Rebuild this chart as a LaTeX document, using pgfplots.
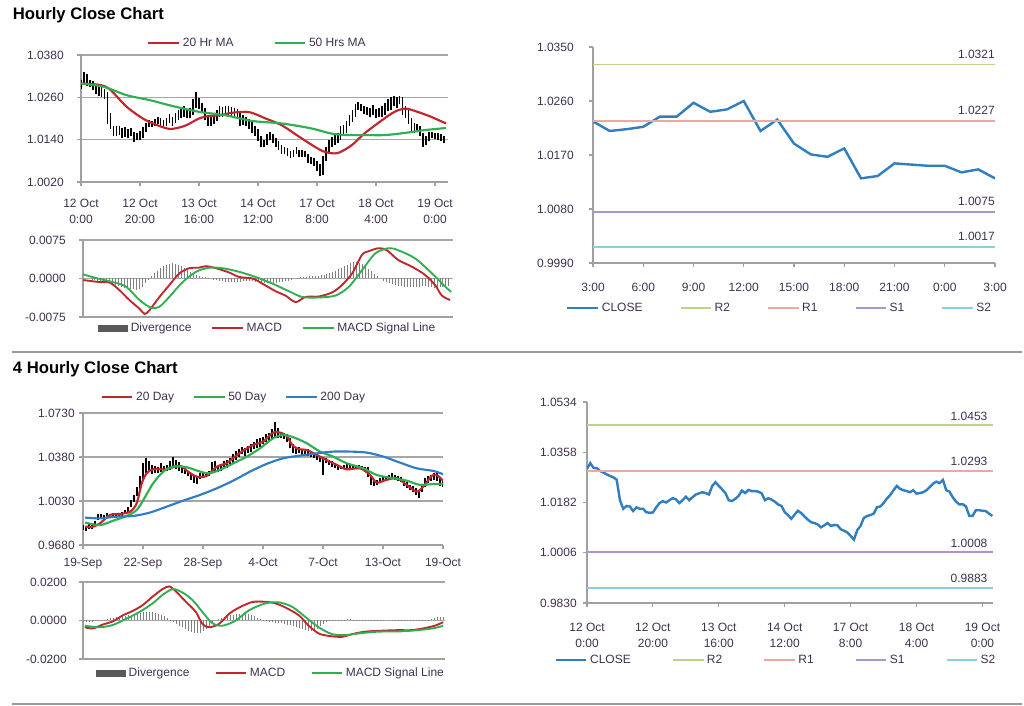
\documentclass[border=0pt]{standalone}
\usepackage{fontspec}
\setmainfont{Liberation Sans}
\usepackage{pgfplots}
\pgfplotsset{compat=1.18}
\usepackage{pgfplotstable}

\definecolor{lblc}{HTML}{3F3151}
\definecolor{axc}{HTML}{A0A0A0}
\definecolor{gridc}{HTML}{A6A6A6}
\definecolor{maRed}{HTML}{C0262C}
\definecolor{maGreen}{HTML}{2EB051}
\definecolor{maBlue}{HTML}{2F7DC3}
\definecolor{closeBlue}{HTML}{2E7EC1}
\definecolor{rTwo}{HTML}{BCD38D}
\definecolor{rOne}{HTML}{EBA9A4}
\definecolor{sOne}{HTML}{AE95C9}
\definecolor{sTwo}{HTML}{8CCDE2}
\definecolor{divc}{HTML}{7F7F7F}
\definecolor{sepc}{HTML}{9A9A9A}

% hourly bars: index, close, low, high
\pgfplotstableread{
i c lo hi
0 1.0300 1.0285 1.0310
1 1.0320 1.0295 1.0332
2 1.0303 1.0292 1.0325
3 1.0302 1.0290 1.0310
4 1.0292 1.0282 1.0305
5 1.0287 1.0270 1.0298
6 1.0280 1.0265 1.0292
7 1.0275 1.0262 1.0290
8 1.0270 1.0255 1.0285
9 1.0262 1.0185 1.0275
10 1.0190 1.0170 1.0215
11 1.0160 1.0150 1.0180
12 1.0170 1.0150 1.0178
13 1.0168 1.0152 1.0180
14 1.0152 1.0145 1.0172
15 1.0165 1.0148 1.0175
16 1.0160 1.0145 1.0170
17 1.0160 1.0150 1.0172
18 1.0148 1.0132 1.0162
19 1.0146 1.0138 1.0158
20 1.0147 1.0140 1.0165
21 1.0165 1.0145 1.0175
22 1.0180 1.0162 1.0188
23 1.0187 1.0175 1.0195
24 1.0182 1.0175 1.0192
25 1.0190 1.0178 1.0198
26 1.0197 1.0185 1.0205
27 1.0193 1.0180 1.0200
28 1.0180 1.0172 1.0195
29 1.0190 1.0178 1.0200
30 1.0202 1.0188 1.0212
31 1.0190 1.0180 1.0205
32 1.0200 1.0188 1.0215
33 1.0210 1.0195 1.0225
34 1.0214 1.0200 1.0230
35 1.0218 1.0205 1.0235
36 1.0215 1.0200 1.0228
37 1.0210 1.0200 1.0230
38 1.0240 1.0210 1.0255
39 1.0253 1.0230 1.0275
40 1.0240 1.0228 1.0258
41 1.0228 1.0215 1.0245
42 1.0215 1.0195 1.0230
43 1.0190 1.0178 1.0210
44 1.0187 1.0178 1.0205
45 1.0195 1.0185 1.0210
46 1.0205 1.0192 1.0225
47 1.0224 1.0205 1.0235
48 1.0215 1.0205 1.0232
49 1.0226 1.0210 1.0235
50 1.0222 1.0210 1.0235
51 1.0222 1.0208 1.0232
52 1.0220 1.0205 1.0230
53 1.0214 1.0200 1.0228
54 1.0190 1.0180 1.0215
55 1.0197 1.0182 1.0210
56 1.0192 1.0178 1.0205
57 1.0185 1.0170 1.0198
58 1.0175 1.0160 1.0190
59 1.0170 1.0150 1.0180
60 1.0148 1.0135 1.0170
61 1.0138 1.0120 1.0150
62 1.0125 1.0118 1.0140
63 1.0140 1.0125 1.0155
64 1.0153 1.0138 1.0162
65 1.0145 1.0130 1.0155
66 1.0133 1.0118 1.0145
67 1.0122 1.0110 1.0135
68 1.0113 1.0100 1.0125
69 1.0110 1.0098 1.0118
70 1.0105 1.0095 1.0115
71 1.0095 1.0088 1.0108
72 1.0102 1.0090 1.0112
73 1.0110 1.0098 1.0118
74 1.0100 1.0092 1.0112
75 1.0103 1.0092 1.0110
76 1.0102 1.0090 1.0108
77 1.0088 1.0075 1.0098
78 1.0083 1.0070 1.0092
79 1.0077 1.0065 1.0088
80 1.0065 1.0050 1.0080
81 1.0052 1.0038 1.0070
82 1.0085 1.0040 1.0095
83 1.0100 1.0080 1.0120
84 1.0128 1.0100 1.0140
85 1.0135 1.0120 1.0148
86 1.0138 1.0125 1.0152
87 1.0143 1.0130 1.0160
88 1.0166 1.0140 1.0178
89 1.0168 1.0155 1.0182
90 1.0180 1.0160 1.0192
91 1.0196 1.0178 1.0210
92 1.0208 1.0190 1.0225
93 1.0225 1.0205 1.0240
94 1.0240 1.0225 1.0248
95 1.0230 1.0220 1.0242
96 1.0225 1.0212 1.0235
97 1.0222 1.0210 1.0232
98 1.0218 1.0205 1.0230
99 1.0225 1.0210 1.0238
100 1.0213 1.0200 1.0228
101 1.0215 1.0205 1.0230
102 1.0218 1.0205 1.0235
103 1.0225 1.0210 1.0245
104 1.0236 1.0220 1.0255
105 1.0248 1.0225 1.0262
106 1.0255 1.0235 1.0265
107 1.0250 1.0230 1.0262
108 1.0261 1.0240 1.0265
109 1.0225 1.0210 1.0262
110 1.0220 1.0200 1.0235
111 1.0200 1.0185 1.0225
112 1.0185 1.0165 1.0200
113 1.0175 1.0160 1.0188
114 1.0176 1.0162 1.0185
115 1.0168 1.0150 1.0180
116 1.0135 1.0118 1.0160
117 1.0135 1.0125 1.0150
118 1.0155 1.0135 1.0162
119 1.0155 1.0145 1.0162
120 1.0153 1.0142 1.0160
121 1.0152 1.0140 1.0158
122 1.0143 1.0135 1.0155
123 1.0135 1.0130 1.0150
}\hourly

% 4-hourly bars: index, low, high
\pgfplotstableread{
i lo hi
0 0.9800 0.9840
1 0.9790 0.9835
2 0.9805 0.9845
3 0.9810 0.9840
4 0.9820 0.9870
5 0.9880 0.9925
6 0.9895 0.9930
7 0.9890 0.9920
8 0.9900 0.9935
9 0.9895 0.9925
10 0.9900 0.9930
11 0.9895 0.9925
12 0.9900 0.9935
13 0.9910 0.9945
14 0.9925 0.9960
15 0.9940 0.9985
16 0.9980 1.0040
17 1.0020 1.0080
18 1.0070 1.0140
19 1.0120 1.0230
20 1.0200 1.0330
21 1.0250 1.0370
22 1.0260 1.0350
23 1.0245 1.0320
24 1.0250 1.0310
25 1.0255 1.0300
26 1.0260 1.0330
27 1.0265 1.0310
28 1.0270 1.0320
29 1.0280 1.0345
30 1.0290 1.0380
31 1.0285 1.0360
32 1.0270 1.0340
33 1.0255 1.0300
34 1.0245 1.0280
35 1.0230 1.0270
36 1.0200 1.0250
37 1.0170 1.0230
38 1.0165 1.0220
39 1.0205 1.0250
40 1.0215 1.0250
41 1.0220 1.0260
42 1.0225 1.0265
43 1.0250 1.0340
44 1.0265 1.0350
45 1.0260 1.0310
46 1.0270 1.0320
47 1.0285 1.0345
48 1.0295 1.0360
49 1.0310 1.0375
50 1.0325 1.0400
51 1.0360 1.0430
52 1.0380 1.0440
53 1.0400 1.0460
54 1.0390 1.0450
55 1.0410 1.0470
56 1.0420 1.0480
57 1.0440 1.0500
58 1.0455 1.0520
59 1.0460 1.0530
60 1.0480 1.0540
61 1.0500 1.0560
62 1.0510 1.0570
63 1.0520 1.0600
64 1.0540 1.0660
65 1.0530 1.0610
66 1.0530 1.0580
67 1.0525 1.0570
68 1.0500 1.0560
69 1.0450 1.0530
70 1.0410 1.0480
71 1.0400 1.0450
72 1.0410 1.0460
73 1.0395 1.0440
74 1.0390 1.0430
75 1.0385 1.0440
76 1.0380 1.0420
77 1.0370 1.0410
78 1.0360 1.0400
79 1.0340 1.0390
80 1.0240 1.0380
81 1.0330 1.0375
82 1.0320 1.0360
83 1.0300 1.0350
84 1.0290 1.0330
85 1.0280 1.0320
86 1.0285 1.0310
87 1.0290 1.0320
88 1.0295 1.0325
89 1.0290 1.0320
90 1.0285 1.0315
91 1.0290 1.0320
92 1.0285 1.0315
93 1.0280 1.0310
94 1.0275 1.0300
95 1.0220 1.0300
96 1.0160 1.0230
97 1.0150 1.0200
98 1.0160 1.0200
99 1.0170 1.0210
100 1.0180 1.0220
101 1.0190 1.0230
102 1.0200 1.0240
103 1.0205 1.0250
104 1.0200 1.0240
105 1.0190 1.0230
106 1.0180 1.0220
107 1.0150 1.0200
108 1.0130 1.0180
109 1.0120 1.0160
110 1.0100 1.0150
111 1.0080 1.0130
112 1.0050 1.0110
113 1.0100 1.0160
114 1.0140 1.0210
115 1.0170 1.0230
116 1.0190 1.0240
117 1.0200 1.0250
118 1.0190 1.0250
119 1.0150 1.0210
120 1.0140 1.0190
}\fourh

\pgfplotstableread[row sep=\\]{
i v\\ 0 0\\ 1 0\\ 2 0\\ 3 -0.0002\\ 4 -0.0003\\ 5 -0.0004\\ 6 -0.0005\\ 7 -0.0006\\ 8 -0.0007\\ 9 -0.0009\\
10 -0.0010\\ 11 -0.0012\\ 12 -0.0014\\ 13 -0.0016\\ 14 -0.0018\\ 15 -0.0019\\ 16 -0.0020\\ 17 -0.0021\\ 18 -0.0022\\ 19 -0.0020\\
20 -0.0016\\ 21 -0.0008\\ 22 -0.0002\\ 23 0.0004\\ 24 0.0010\\ 25 0.0015\\ 26 0.0020\\ 27 0.0024\\ 28 0.0027\\ 29 0.0029\\
30 0.0030\\ 31 0.0029\\ 32 0.0027\\ 33 0.0024\\ 34 0.0020\\ 35 0.0016\\ 36 0.0012\\ 37 0.0009\\ 38 0.0007\\ 39 0.0005\\
40 0.0003\\ 41 0.0002\\ 42 0.0001\\ 43 0\\ 44 -0.0002\\ 45 -0.0003\\ 46 -0.0004\\ 47 -0.0005\\ 48 -0.0006\\ 49 -0.0006\\
50 -0.0007\\ 51 -0.0007\\ 52 -0.0007\\ 53 -0.0006\\ 54 -0.0005\\ 55 -0.0004\\ 56 -0.0004\\ 57 -0.0005\\ 58 -0.0006\\ 59 -0.0007\\
60 -0.0008\\ 61 -0.0008\\ 62 -0.0009\\ 63 -0.0009\\ 64 -0.0008\\ 65 -0.0008\\ 66 -0.0007\\ 67 -0.0006\\ 68 -0.0005\\ 69 -0.0004\\
70 -0.0002\\ 71 0\\ 72 0.0001\\ 73 0.0002\\ 74 0.0003\\ 75 0.0003\\ 76 0.0004\\ 77 0.0004\\ 78 0.0005\\ 79 0.0005\\
80 0.0006\\ 81 0.0007\\ 82 0.0008\\ 83 0.0010\\ 84 0.0012\\ 85 0.0015\\ 86 0.0018\\ 87 0.0021\\ 88 0.0024\\ 89 0.0027\\
90 0.0030\\ 91 0.0032\\ 92 0.0033\\ 93 0.0031\\ 94 0.0028\\ 95 0.0024\\ 96 0.0019\\ 97 0.0014\\ 98 0.0009\\ 99 0.0004\\
100 0\\ 101 -0.0004\\ 102 -0.0007\\ 103 -0.0009\\ 104 -0.0011\\ 105 -0.0013\\ 106 -0.0014\\ 107 -0.0015\\ 108 -0.0016\\ 109 -0.0016\\
110 -0.0016\\ 111 -0.0016\\ 112 -0.0016\\ 113 -0.0016\\ 114 -0.0015\\ 115 -0.0015\\ 116 -0.0016\\ 117 -0.0017\\ 118 -0.0018\\ 119 -0.0018\\
120 -0.0017\\ 121 -0.0016\\ 122 -0.0016\\ 123 -0.0015\\
}\hdiv

\pgfplotstableread[row sep=\\]{
i v\\ 0 -0.0005\\ 1 -0.0006\\ 2 -0.0007\\ 3 -0.0006\\ 4 -0.0004\\ 5 -0.0002\\ 6 0.0002\\ 7 0.0005\\ 8 0.0008\\ 9 0.0011\\
10 0.0014\\ 11 0.0017\\ 12 0.0019\\ 13 0.0021\\ 14 0.0023\\ 15 0.0026\\ 16 0.0030\\ 17 0.0034\\ 18 0.0038\\ 19 0.0041\\
20 0.0044\\ 21 0.0046\\ 22 0.0046\\ 23 0.0044\\ 24 0.0040\\ 25 0.0035\\ 26 0.0029\\ 27 0.0021\\ 28 0.0012\\ 29 0.0003\\
30 -0.0006\\ 31 -0.0016\\ 32 -0.0026\\ 33 -0.0036\\ 34 -0.0045\\ 35 -0.0053\\ 36 -0.0060\\ 37 -0.0065\\ 38 -0.0066\\ 39 -0.0063\\
40 -0.0056\\ 41 -0.0045\\ 42 -0.0030\\ 43 -0.0014\\ 44 0\\ 45 0.0006\\ 46 0.0012\\ 47 0.0018\\ 48 0.0023\\ 49 0.0027\\
50 0.0031\\ 51 0.0034\\ 52 0.0036\\ 53 0.0036\\ 54 0.0035\\ 55 0.0032\\ 56 0.0027\\ 57 0.0021\\ 58 0.0014\\ 59 0.0007\\
60 0.0001\\ 61 -0.0004\\ 62 -0.0007\\ 63 -0.0009\\ 64 -0.0011\\ 65 -0.0013\\ 66 -0.0015\\ 67 -0.0018\\ 68 -0.0021\\ 69 -0.0025\\
70 -0.0030\\ 71 -0.0035\\ 72 -0.0040\\ 73 -0.0045\\ 74 -0.0049\\ 75 -0.0052\\ 76 -0.0053\\ 77 -0.0050\\ 78 -0.0042\\ 79 -0.0030\\
80 -0.0018\\ 81 -0.0008\\ 82 -0.0002\\ 83 0.0002\\ 84 0.0003\\ 85 0.0004\\ 86 0.0005\\ 87 0.0005\\ 88 0.0006\\ 89 0.0006\\
90 0.0005\\ 91 0.0004\\ 92 0.0003\\ 93 0.0003\\ 94 0.0003\\ 95 0.0002\\ 96 0.0002\\ 97 0.0002\\ 98 0.0001\\ 99 0.0001\\
100 0.0001\\ 101 0\\ 102 -0.0002\\ 103 -0.0003\\ 104 -0.0004\\ 105 -0.0004\\ 106 -0.0003\\ 107 -0.0002\\ 108 0.0001\\ 109 0.0002\\
110 0.0002\\ 111 0.0001\\ 112 -0.0002\\ 113 -0.0003\\ 114 -0.0002\\ 115 0.0002\\ 116 0.0008\\ 117 0.0013\\ 118 0.0016\\ 119 0.0017\\
120 0.0016\\
}\fdiv

\pgfplotstableread{
h c
0 1.0226
1 1.0210
2 1.0213
3 1.0217
4 1.0234
5 1.0234
6 1.0257
7 1.0242
8 1.0246
9 1.0260
10 1.0210
11 1.0229
12 1.0189
13 1.0171
14 1.0167
15 1.0181
16 1.0131
17 1.0135
18 1.0156
19 1.0154
20 1.0152
21 1.0152
22 1.0141
23 1.0146
24 1.0131
}\hclose

\pgfplotsset{
  pane/.style={
    scale only axis, anchor=south west,
    axis x line*=bottom, axis y line*=left,
    axis line style={draw=axc, line width=0.8pt},
    every tick/.style={draw=axc, line width=0.8pt},
    major tick length=3pt, tick align=outside,
    scaled ticks=false,
    ticklabel style={font=\fontsize{9}{12}\selectfont, text=lblc, inner sep=0pt},
    grid style={draw=gridc, line width=0.8pt},
    legend style={draw=none, fill=none, font=\fontsize{9}{11}\selectfont, text=lblc,
      legend columns=-1, anchor=center, inner sep=0pt},
    legend cell align=left,
    legend image code/.code={\draw[##1] (0pt,0pt) -- (23pt,0pt);},
  },
  divlegend/.style={legend image code/.code={\fill[black!65] (0pt,-2.2pt) rectangle (22pt,2.2pt);}},
}

\begin{document}
\begin{tikzpicture}
\useasboundingbox (0,0) rectangle (768pt,529.5pt);
\fill[white] (0,0) rectangle (768pt,529.5pt);
\node[anchor=west, inner sep=0pt, font=\bfseries\fontsize{12.5}{14}\selectfont] at (9.5pt,518.25pt) {Hourly Close Chart};
\node[anchor=west, inner sep=0pt, font=\bfseries\fontsize{12.5}{14}\selectfont] at (9.5pt,252.75pt) {4 Hourly Close Chart};
\draw[sepc, line width=1pt] (9pt,265.5pt) -- (766.5pt,265.5pt);
\draw[sepc, line width=1pt] (9pt,1.5pt) -- (766.5pt,1.5pt);

% ---------- Panel 1: hourly bars with MAs
\begin{axis}[pane, at={(60.75pt,393pt)}, width=275.25pt, height=95.25pt,
  xmin=0, xmax=124.4, ymin=1.002, ymax=1.038,
  ytick={1.002,1.014,1.026,1.038}, yticklabels={1.0020,1.0140,1.0260,1.0380},
  xtick={0,20,40,60,80,100,120},
  xticklabels={{12 Oct\\0:00},{12 Oct\\20:00},{13 Oct\\16:00},{14 Oct\\12:00},{17 Oct\\8:00},{18 Oct\\4:00},{19 Oct\\0:00}},
  xticklabel style={align=center}, xticklabel shift=10pt, yticklabel shift=9.75pt,
  ymajorgrids,
  legend style={at={(0.482,1.094)}, /tikz/every even column/.append style={column sep=28pt}},
]
\addplot[black, line width=1.25pt, forget plot, quiver={u=0, v=\thisrow{hi}-\thisrow{lo}}] table[x=i, y=lo] {\hourly};
\addplot[maRed, line width=1.6pt, smooth, tension=0.5] coordinates {
(0,1.0299) (6.5,1.0295) (10,1.0281) (15.5,1.0233) (22,1.0195) (29,1.0172) (32,1.0172) (35.7,1.0181)
(40,1.0200) (43.5,1.0207) (47,1.0209) (51,1.0216) (56,1.0219) (58.6,1.0214) (62.6,1.0200) (68,1.0181)
(74,1.0148) (79.4,1.0119) (82.8,1.0105) (87,1.0102) (91.7,1.0124) (96,1.0157) (102,1.0195) (106.3,1.0219)
(110,1.0228) (114,1.0219) (118.6,1.0205) (123.7,1.0186)};
\addlegendentry{20 Hr MA}
\addplot[maGreen, line width=1.6pt, smooth, tension=0.5] coordinates {
(0,1.0299) (7.6,1.0290) (15.5,1.0266) (23.3,1.0252) (31.2,1.0235) (40,1.0219) (49,1.0209) (58,1.0193)
(68,1.0186) (78,1.0172) (85,1.0157) (90.6,1.0153) (96,1.0153) (103,1.0153) (109.7,1.0159) (116.4,1.0167) (123.7,1.0173)};
\addlegendentry{50 Hrs MA}
\end{axis}

% ---------- Panel 2: hourly MACD
\begin{axis}[pane, at={(62.25pt,291.75pt)}, width=277.5pt, height=57.75pt,
  xmin=0, xmax=124.4, ymin=-0.0075, ymax=0.0075,
  ytick={-0.0075,0,0.0075}, yticklabels={-0.0075,0.0000,0.0075},
  xtick=\empty, yticklabel shift=9.75pt, ymajorgrids,
  legend style={at={(0.5,-0.143)}, /tikz/every even column/.append style={column sep=13pt}},
]
\addplot[divc, ycomb, line width=0.6pt, divlegend] table[x=i, y=v] {\hdiv};
\addlegendentry{Divergence}
\addplot[maRed, line width=1.4pt, smooth, tension=0.5] coordinates {
(0,-0.0003) (5.6,-0.0007) (9,-0.0008) (12.3,-0.0023) (15.6,-0.0042) (19,-0.0059) (20.7,-0.0069) (22.3,-0.0062)
(25.7,-0.0036) (29,-0.0013) (32.4,0.0010) (35.7,0.0020) (39,0.0021) (41.3,0.0024) (44.7,0.0020) (49,0.0012)
(52.5,0.0003) (57,0) (60.3,-0.0010) (64.8,-0.0025) (68,-0.0033) (71.5,-0.0046) (74.8,-0.0036) (79.3,-0.0035)
(83.8,-0.0027) (87,-0.0013) (90.5,0.0010) (93.8,0.0046) (96,0.0053) (99.4,0.0059) (102.2,0.0055) (106,0.0036)
(110.6,0.0023) (115,0.0007) (118.4,-0.0013) (120.6,-0.0033) (123.4,-0.0042)};
\addlegendentry{MACD}
\addplot[maGreen, line width=1.4pt, smooth, tension=0.5] coordinates {
(0,0.0008) (5.6,-0.0001) (10,-0.0007) (14.5,-0.0016) (19,-0.0042) (22.9,-0.0057) (25.7,-0.0055) (29,-0.0036)
(33.5,-0.0007) (38,0.0013) (42.4,0.0021) (47,0.0020) (52.5,0.0013) (58,0.0003) (63.7,-0.0010) (69.3,-0.0025)
(73.7,-0.0036) (79.3,-0.0037) (85,-0.0033) (89.4,-0.0016) (93.8,0.0016) (98.3,0.0049) (102.8,0.0059) (106,0.0055)
(111.7,0.0039) (117.3,0.0010) (121.8,-0.0016) (123.8,-0.0026)};
\addlegendentry{MACD Signal Line}
\end{axis}

% ---------- Panel 3: hourly close with pivots (1 Hr)
\begin{axis}[pane, at={(444.75pt,332.25pt)}, width=301.5pt, height=162pt,
  xmin=0, xmax=24, ymin=0.999, ymax=1.035,
  ytick={0.999,1.008,1.017,1.026,1.035}, yticklabels={0.9990,1.0080,1.0170,1.0260,1.0350},
  xtick={0,3,6,9,12,15,18,21,24}, xticklabels={3:00,6:00,9:00,12:00,15:00,18:00,21:00,0:00,3:00},
  xticklabel shift=12pt, yticklabel shift=11.25pt,
  legend style={at={(0.465,-0.208)}, /tikz/every even column/.append style={column sep=26pt}},
]
\addplot[closeBlue, line width=1.8pt] table[x=h, y=c] {\hclose};
\addlegendentry{CLOSE}
\addplot[rTwo, line width=1.1pt] coordinates {(0,1.0321) (24,1.0321)};
\addlegendentry{R2}
\addplot[rOne, line width=1.1pt] coordinates {(0,1.0227) (24,1.0227)};
\addlegendentry{R1}
\addplot[sOne, line width=1.1pt] coordinates {(0,1.0075) (24,1.0075)};
\addlegendentry{S1}
\addplot[sTwo, line width=1.1pt] coordinates {(0,1.0017) (24,1.0017)};
\addlegendentry{S2}
\node[anchor=south east, inner sep=0pt, yshift=4.5pt, font=\fontsize{9}{11}\selectfont, text=lblc] at (axis cs:24,1.0321) {1.0321};
\node[anchor=south east, inner sep=0pt, yshift=4.5pt, font=\fontsize{9}{11}\selectfont, text=lblc] at (axis cs:24,1.0227) {1.0227};
\node[anchor=south east, inner sep=0pt, yshift=4.5pt, font=\fontsize{9}{11}\selectfont, text=lblc] at (axis cs:24,1.0075) {1.0075};
\node[anchor=south east, inner sep=0pt, yshift=4.5pt, font=\fontsize{9}{11}\selectfont, text=lblc] at (axis cs:24,1.0017) {1.0017};
\node[inner sep=0pt, font=\fontsize{9}{11}\selectfont, text=lblc] at (rel axis cs:0.448,-0.296) {Note: Support \& Resistance Calculated based on 1 Hr Pivot Points};
\end{axis}

% ---------- Panel 4: 4-hourly bars with MAs
\begin{axis}[pane, at={(62.25pt,120.75pt)}, width=270pt, height=99pt,
  xmin=0, xmax=120, ymin=0.968, ymax=1.073,
  ytick={0.968,1.003,1.038,1.073}, yticklabels={0.9680,1.0030,1.0380,1.0730},
  xtick={0,20,40,60,80,100,120}, xticklabels={19-Sep,22-Sep,28-Sep,4-Oct,7-Oct,13-Oct,19-Oct},
  xticklabel shift=7pt, yticklabel shift=3pt,
  ymajorgrids,
  legend style={at={(0.42,1.121)}, /tikz/every even column/.append style={column sep=12pt}},
]
\addplot[black, line width=1.1pt, forget plot, quiver={u=0, v=\thisrow{hi}-\thisrow{lo}}] table[x=i, y=lo] {\fourh};
\addplot[maRed, line width=1.6pt, smooth, tension=0.5] coordinates {
(0.7,0.9826) (3.4,0.9826) (5.7,0.9853) (9,0.9919) (12.3,0.9927) (15.7,0.9945) (17.9,1.0012) (19.6,1.0171)
(21.2,1.0250) (23.4,1.0282) (27.9,1.0282) (31.2,1.0309) (32.9,1.0305) (35,1.0264) (37.9,1.0224) (41.2,1.0229)
(44.6,1.0303) (47.9,1.0330) (50,1.0370) (53.4,1.0431) (56.8,1.0476) (60,1.0502) (63.4,1.0574) (65.7,1.0574)
(67.9,1.0547) (70,1.0468) (72.3,1.0441) (74.6,1.0436) (77.9,1.0396) (81.2,1.0356) (84.6,1.0317) (87.9,1.0282)
(92.3,1.0290) (95.7,1.0237) (97.9,1.0176) (101,1.0197) (104.6,1.0211) (107.9,1.0158) (111.2,1.0105) (113.4,1.0144)
(116.2,1.0229) (117.9,1.0237) (120,1.0192)};
\addlegendentry{20 Day}
\addplot[maGreen, line width=1.6pt, smooth, tension=0.5] coordinates {
(0.7,0.9858) (5.7,0.9839) (10.1,0.9874) (14.6,0.9911) (17.9,0.9959) (20.1,1.0038) (23.4,1.0171) (26.8,1.0264)
(30.1,1.0303) (34.6,1.0298) (39,1.0264) (42.3,1.0250) (46.8,1.0290) (50.1,1.0330) (54.6,1.0383) (59,1.0449)
(63.4,1.0529) (66.8,1.0555) (70.1,1.0537) (74.6,1.0489) (79,1.0423) (83.4,1.0383) (87.9,1.0330) (93.4,1.0290)
(97.9,1.0237) (103.4,1.0211) (107.9,1.0192) (112.3,1.0158) (116.8,1.0165) (120,1.0165)};
\addlegendentry{50 Day}
\addplot[maBlue, line width=1.6pt, smooth, tension=0.5] coordinates {
(0.7,0.9898) (5.7,0.9892) (11.2,0.9906) (16.8,0.9911) (22.3,0.9938) (27.9,0.9985) (33.4,1.0033) (39,1.0078)
(44.6,1.0131) (50.1,1.0192) (55.7,1.0264) (61.2,1.0325) (66.8,1.0370) (72.3,1.0391) (77.9,1.0409) (83.4,1.0423)
(89,1.0423) (94.6,1.0415) (100.1,1.0383) (105.7,1.0335) (111.2,1.0290) (116.8,1.0269) (120,1.0243)};
\addlegendentry{200 Day}
\end{axis}

% ---------- Panel 5: 4-hourly MACD
\begin{axis}[pane, at={(62.25pt,35.25pt)}, width=271.5pt, height=57.75pt,
  xmin=0, xmax=120.6, ymin=-0.02, ymax=0.02,
  ytick={-0.02,0,0.02}, yticklabels={-0.0200,0.0000,0.0200},
  xtick=\empty, yticklabel shift=9pt, ymajorgrids,
  legend style={at={(0.52,-0.182)}, /tikz/every even column/.append style={column sep=17pt}},
]
\addplot[divc, ycomb, line width=0.6pt, divlegend] table[x=i, y=v] {\fdiv};
\addlegendentry{Divergence}
\addplot[maRed, line width=1.4pt, smooth, tension=0.5] coordinates {
(0.6,-0.0035) (3.3,-0.0041) (6.6,-0.0021) (10,-0.0004) (13.3,0.0027) (16.6,0.0050) (19.9,0.0080) (23.2,0.0124)
(26.5,0.0163) (28.8,0.0177) (31,0.0150) (34.3,0.0097) (37.6,0.0044) (39.8,-0.0018) (42,-0.0035) (45.3,-0.0018)
(48.7,0.0035) (52,0.0067) (56.4,0.0096) (60.8,0.0097) (64.1,0.0089) (67.5,0.0067) (71.9,0.0027) (75.2,-0.0027)
(78.5,-0.0067) (81.8,-0.0080) (86.3,-0.0085) (89.6,-0.0071) (94,-0.0058) (99.5,-0.0053) (105,-0.0050) (109.5,-0.0050)
(114,-0.0039) (117.2,-0.0027) (120,-0.0009)};
\addlegendentry{MACD}
\addplot[maGreen, line width=1.4pt, smooth, tension=0.5] coordinates {
(0.6,-0.0027) (5.5,-0.0035) (10,-0.0023) (14.4,0.0009) (18.8,0.0044) (23.2,0.0089) (26.5,0.0133) (29.9,0.0163)
(33.2,0.0145) (36.5,0.0106) (39.8,0.0044) (43.1,-0.0014) (46.5,-0.0027) (50.9,0) (55.3,0.0053) (60.8,0.0089)
(65.3,0.0094) (69.7,0.0071) (74.1,0.0018) (78.5,-0.0035) (83,-0.0071) (87.4,-0.0076) (91.8,-0.0067) (98.4,-0.0058)
(105,-0.0057) (111.7,-0.0050) (117.2,-0.0039) (120,-0.0027)};
\addlegendentry{MACD Signal Line}
\end{axis}

% ---------- Panel 6: hourly close with pivots (24 Hr)
\begin{axis}[pane, at={(440.25pt,77.25pt)}, width=304.5pt, height=150.75pt,
  xmin=0, xmax=123.2, ymin=0.983, ymax=1.0534,
  ytick={0.983,1.0006,1.0182,1.0358,1.0534}, yticklabels={0.9830,1.0006,1.0182,1.0358,1.0534},
  xtick={0,20,40,60,80,100,120},
  xticklabels={{12 Oct\\0:00},{12 Oct\\20:00},{13 Oct\\16:00},{14 Oct\\12:00},{17 Oct\\8:00},{18 Oct\\4:00},{19 Oct\\0:00}},
  xticklabel style={align=center}, xticklabel shift=12pt, yticklabel shift=4.5pt,
  legend style={at={(0.466,-0.284)}, /tikz/every even column/.append style={column sep=29pt}},
]
\addplot[closeBlue, line width=1.8pt] table[x=i, y=c] {\hourly};
\addlegendentry{CLOSE}
\addplot[rTwo, line width=1.1pt] coordinates {(0,1.0453) (123.2,1.0453)};
\addlegendentry{R2}
\addplot[rOne, line width=1.1pt] coordinates {(0,1.0293) (123.2,1.0293)};
\addlegendentry{R1}
\addplot[sOne, line width=1.1pt] coordinates {(0,1.0008) (123.2,1.0008)};
\addlegendentry{S1}
\addplot[sTwo, line width=1.1pt] coordinates {(0,0.9883) (123.2,0.9883)};
\addlegendentry{S2}
\node[anchor=south east, inner sep=0pt, xshift=-4pt, yshift=3.5pt, font=\fontsize{9}{11}\selectfont, text=lblc] at (axis cs:123.2,1.0453) {1.0453};
\node[anchor=south east, inner sep=0pt, xshift=-4pt, yshift=3.5pt, font=\fontsize{9}{11}\selectfont, text=lblc] at (axis cs:123.2,1.0293) {1.0293};
\node[anchor=south east, inner sep=0pt, xshift=-4pt, yshift=3.5pt, font=\fontsize{9}{11}\selectfont, text=lblc] at (axis cs:123.2,1.0008) {1.0008};
\node[anchor=south east, inner sep=0pt, xshift=-4pt, yshift=3.5pt, font=\fontsize{9}{11}\selectfont, text=lblc] at (axis cs:123.2,0.9883) {0.9883};
\node[inner sep=0pt, font=\fontsize{9}{11}\selectfont, text=lblc] at (rel axis cs:0.456,-0.393) {Note: Support \& Resistance Calculated based on 24 Hr Pivot Points};
\end{axis}
\end{tikzpicture}
\end{document}
